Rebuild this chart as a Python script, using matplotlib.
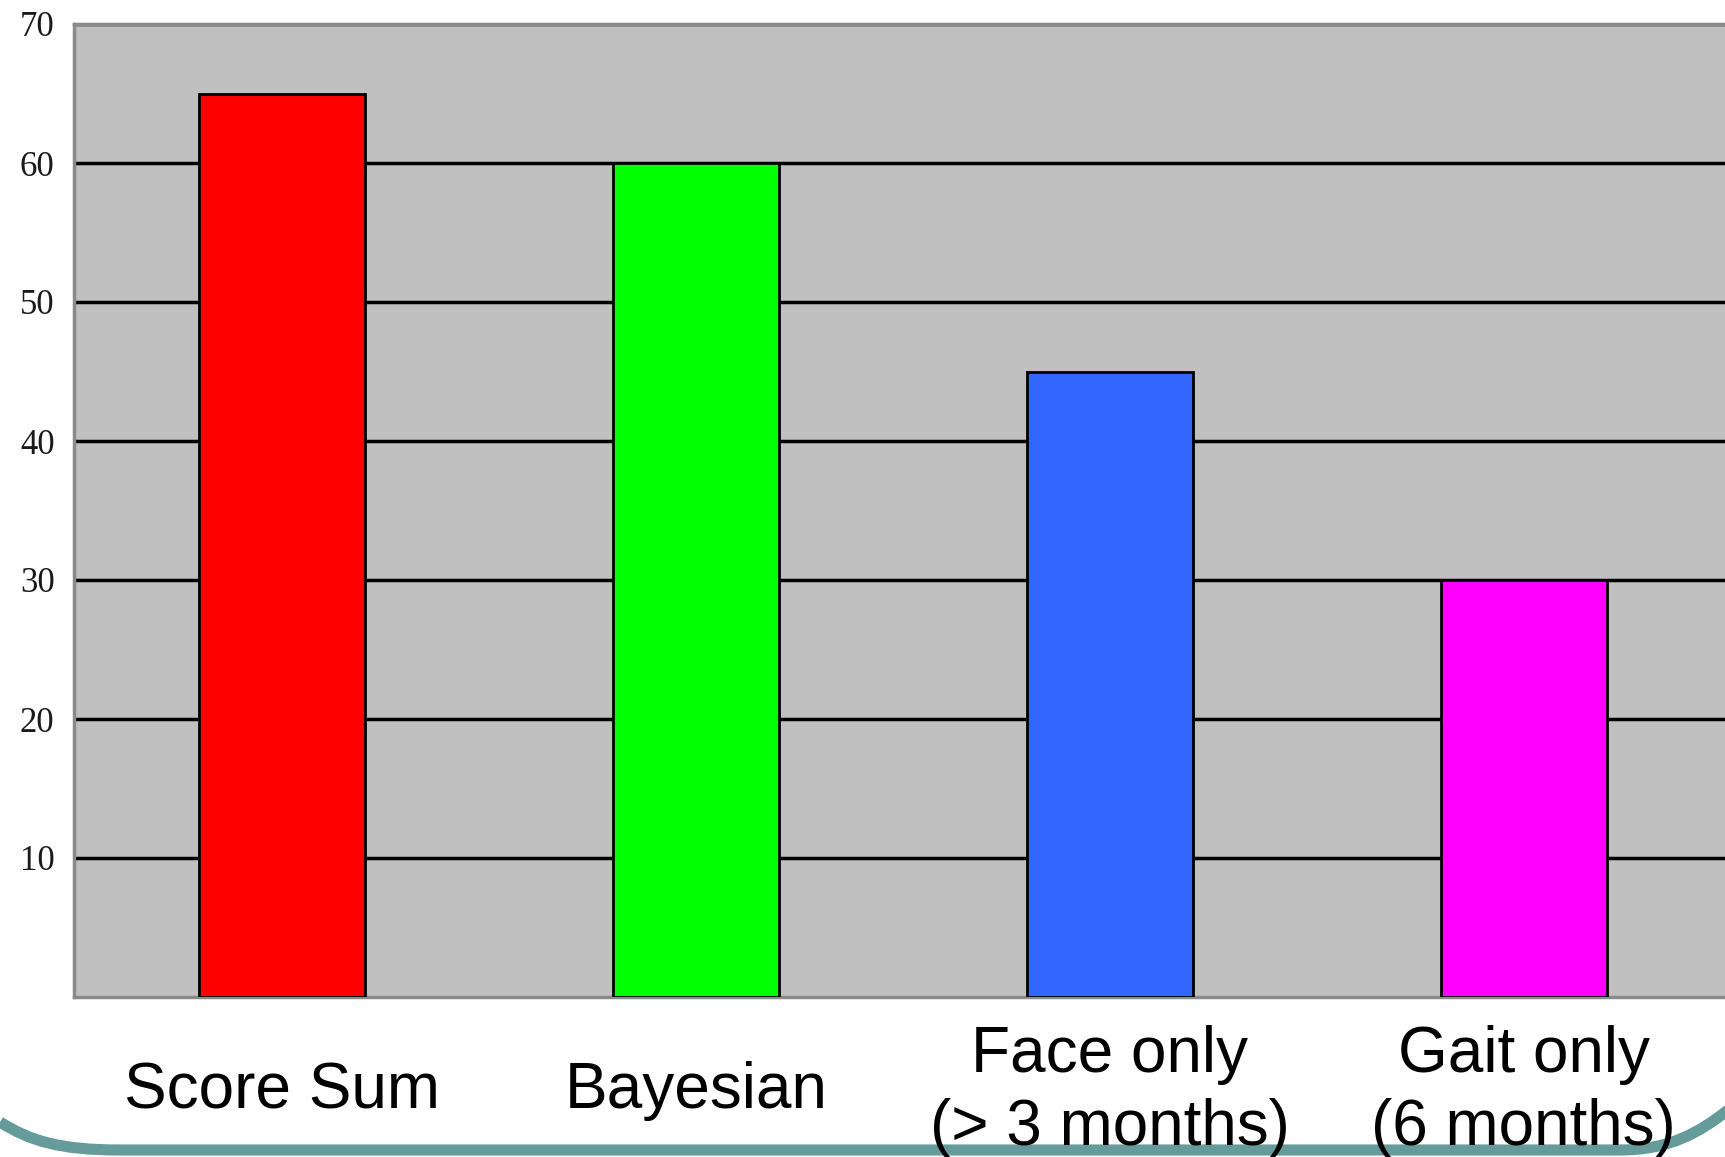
import matplotlib.pyplot as plt
from matplotlib.path import Path
from matplotlib.patches import PathPatch

categories = ["Score Sum", "Bayesian", "Face only\n(> 3 months)", "Gait only\n(6 months)"]
values = [65, 60, 45, 30]
bar_colors = ["#ff0000", "#00ff00", "#3366ff", "#ff00ff"]
yticks = [10, 20, 30, 40, 50, 60, 70]

W, H = 1725, 1157
fig = plt.figure(figsize=(W / 100, H / 100), dpi=100)
fig.patch.set_facecolor("white")

ax = fig.add_axes([74 / W, 1 - 997 / H, (W - 74) / W, (997 - 24) / H])
ax.set_facecolor("#c0c0c0")

x = list(range(len(categories)))
ax.bar(x, values, width=0.4, color=bar_colors, edgecolor="black", linewidth=2, zorder=3)

ax.set_ylim(0, 70)
ax.set_xlim(-0.502, 3.486)
ax.set_yticks(yticks)
ax.set_yticklabels([str(v) for v in yticks], fontfamily="Liberation Serif",
                   fontsize=25, color="#1a1a1a")
ax.yaxis.grid(True, color="black", linewidth=2.5, zorder=1)
ax.set_axisbelow(True)
ax.tick_params(axis="both", length=0)
ax.tick_params(axis="y", pad=14)

ax.set_xticks(x)
ax.set_xticklabels(categories, fontfamily="Liberation Sans", fontsize=46,
                   color="black", linespacing=1.27)
for lbl in ax.get_xticklabels():
    lbl.set_va("center")
ax.tick_params(axis="x", pad=68)

for side in ("left", "top", "bottom"):
    ax.spines[side].set_color("#8a8a8a")
    ax.spines[side].set_linewidth(2.5)
ax.spines["right"].set_visible(False)

# slide decoration: teal rounded line along the bottom, behind the text
def fp(px, py):
    return (px / W, 1 - py / H)

verts = [fp(0, 1122), fp(30, 1141), fp(60, 1150), fp(120, 1150),
         fp(1620, 1150), fp(1670, 1150), fp(1700, 1132), fp(1728, 1110)]
codes = [Path.MOVETO, Path.CURVE4, Path.CURVE4, Path.CURVE4,
         Path.LINETO, Path.CURVE4, Path.CURVE4, Path.CURVE4]
deco = PathPatch(Path(verts, codes), transform=fig.transFigure, fill=False,
                 edgecolor="#669b9b", linewidth=8, zorder=-1)
fig.add_artist(deco)

fig.savefig("out.png", dpi=100)
